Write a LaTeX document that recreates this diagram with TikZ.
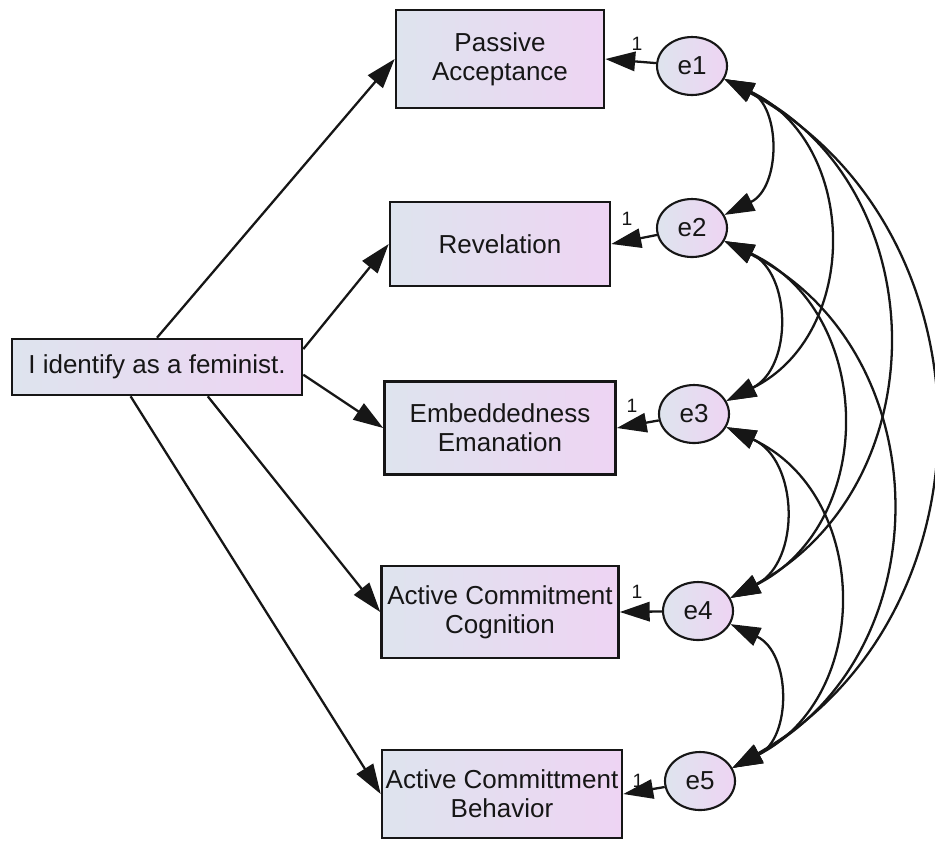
\documentclass[tikz,border=0pt]{standalone}
\usepackage{fontspec}
\setmainfont{Liberation Sans}
\usetikzlibrary{arrows.meta,calc,shapes.geometric}
\definecolor{fillL}{RGB}{222,228,238}
\definecolor{fillR}{RGB}{238,212,243}
\definecolor{ink}{RGB}{22,22,22}
\begin{document}
\begin{tikzpicture}[x=0.02cm,y=-0.02cm,
  obs/.style={draw=ink, line width=1.5pt, rectangle, left color=fillL, right color=fillR,
    align=center, font=\fontsize{14.8}{16.5}\selectfont, text=ink, inner sep=0pt},
  err/.style={draw=ink, line width=1.2pt, ellipse, left color=fillL, right color=fillR,
    minimum width=1.4cm, minimum height=1.16cm, inner sep=0pt,
    font=\fontsize{14.8}{16.5}\selectfont, text=ink},
  regr/.style={draw=ink, line width=1.3pt, -{Triangle[length=17pt,width=11pt]}},
  cov/.style={draw=ink, line width=1.3pt,
    {Triangle[length=17pt,width=11pt]}-{Triangle[length=17pt,width=11pt]},
    bend left=64, looseness=1.19},
  one/.style={font=\fontsize{11}{11}\selectfont, text=ink, inner sep=0pt}
]
\useasboundingbox (0,0) rectangle (935,840);

% observed variables
\node[obs, minimum width=5.8cm, minimum height=1.12cm] (fem) at (157,367) {I identify as a feminist.};
\node[obs, minimum width=4.16cm, minimum height=1.96cm] (PA) at (500,59) {Passive\\Acceptance};
\node[obs, minimum width=4.4cm, minimum height=1.68cm] (Rev) at (500,244) {Revelation};
\node[obs, minimum width=4.62cm, minimum height=1.86cm] (EE) at (500,428) {Embeddedness\\Emanation};
\node[obs, minimum width=4.74cm, minimum height=1.84cm] (ACC) at (500,612) {Active Commitment\\Cognition};
\node[obs, minimum width=4.8cm, minimum height=1.76cm] (ACB) at (502,794) {Active Committment\\Behavior};

% error terms
\node[err] (e1) at (692,66) {e1};
\node[err] (e2) at (692,228) {e2};
\node[err] (e3) at (694,414) {e3};
\node[err] (e4) at (698,611) {e4};
\node[err] (e5) at (700,781) {e5};

% regression paths
\draw[regr] (fem.90) -- (PA.west);
\draw[regr] (fem.7) -- (Rev.west);
\draw[regr] (fem.-3) -- (EE.west);
\draw[regr] (fem.-30) -- (ACC.west);
\draw[regr] (fem.-132) -- (ACB.west);

% error paths fixed to 1
\draw[regr] (e1) -- (PA.east);
\draw[regr] (e2) -- (Rev.east);
\draw[regr] (e3) -- (EE.east);
\draw[regr] (e4) -- (ACC.east);
\draw[regr] (e5) -- (ACB.east);
\node[one] (l1) at (637,44) {1};
\node[one] (l2) at (627,219) {1};
\node[one] (l3) at (632,406) {1};
\node[one] (l4) at (637,592) {1};
\node[one] (l5) at (638,781) {1};

% error covariances
\draw[cov] (e1.-22) to (e2.22);
\draw[cov] (e2.-22) to (e3.22);
\draw[cov] (e3.-22) to (e4.22);
\draw[cov] (e4.-22) to (e5.22);
\draw[cov] (e1.-22) to (e3.22);
\draw[cov] (e2.-22) to (e4.22);
\draw[cov] (e3.-22) to (e5.22);
\draw[cov, bend left=62.5, looseness=1.17] (e1.-22) to (e4.22);
\draw[cov, bend left=62.5, looseness=1.17] (e2.-22) to (e5.22);
\draw[cov, bend left=61, looseness=1.15] (e1.-22) to (e5.22);
\end{tikzpicture}
\end{document}
